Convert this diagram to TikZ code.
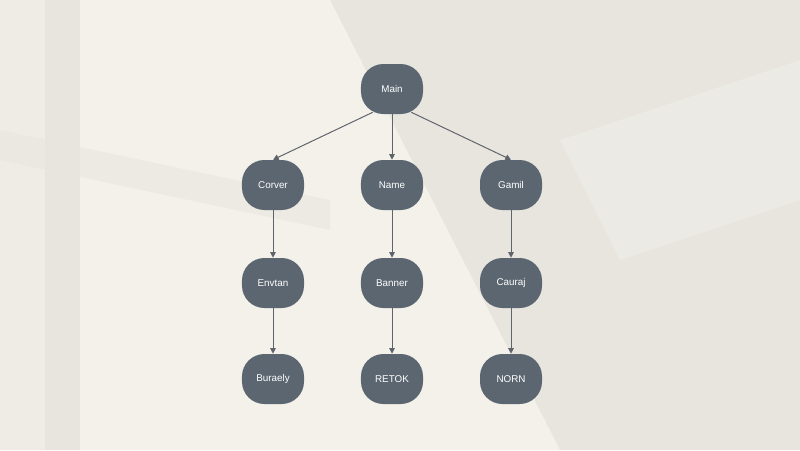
\documentclass[tikz,border=0pt]{standalone}
\usepackage{fontspec}
\setmainfont{Liberation Sans}
\usetikzlibrary{arrows.meta}
\definecolor{bgbase}{HTML}{E8E5DF}
\definecolor{bglight}{HTML}{F3F1EA}
\definecolor{boxfill}{HTML}{5B6670}
\definecolor{linecol}{HTML}{5E646B}

\begin{document}
\begin{tikzpicture}
        [x=0.025cm,y=-0.025cm,
         every node/.style={draw=none,fill=boxfill,text=white,rounded corners=0.56cm,
           minimum width=1.55cm,minimum height=1.25cm,inner sep=0,
           font=\fontsize{7}{9}\selectfont},
         link/.style={draw=linecol,line width=0.7pt,-{Triangle[length=4pt,width=4pt]}}]

        % background and window light
        \fill[bgbase] (0,0) rectangle (800,450);
        \fill[bglight] (80,0) -- (330,0) -- (560,450) -- (80,450) -- cycle;
        \fill[bglight,opacity=0.6] (0,0) -- (45,0) -- (45,450) -- (0,450) -- cycle;
        \fill[bgbase,opacity=0.5] (0,130) -- (330,200) -- (330,230) -- (0,160) -- cycle;
        \fill[bgbase,opacity=0.4] (45,0) rectangle (75,450);
        \fill[white,opacity=0.2] (560,140) -- (800,60) -- (800,200) -- (620,260) -- cycle;
        \useasboundingbox (0,0) rectangle (800,450);

        \node (n1) at (392, 89) {Main};
        \node (n2) at (273, 185) {Corver};
        \node (n3) at (392, 185) {Name};
        \node (n4) at (511, 185) {Gamil};
        \node (n5) at (273, 283) {Envtan};
        \node (n6) at (392, 283) {Banner};
        \node (n7) at (511, 283) {Cauraj};
        \node (n8) at (273, 379) {Buraely};
        \node (n9) at (392, 379) {RETOK};
        \node (n10) at (511, 379) {NORN};

        \draw[link] (n1.south west) ++(12,-2) -- (n2.north);
        \draw[link] (n1) -- (n3);
        \draw[link] (n1.south east) ++(-12,-2) -- (n4.north);
        \draw[link] (n2) -- (n5);
        \draw[link] (n3) -- (n6);
        \draw[link] (n4) -- (n7);
        \draw[link] (n5) -- (n8);
        \draw[link] (n6) -- (n9);
        \draw[link] (n7) -- (n10);
      \end{tikzpicture}
\end{document}
